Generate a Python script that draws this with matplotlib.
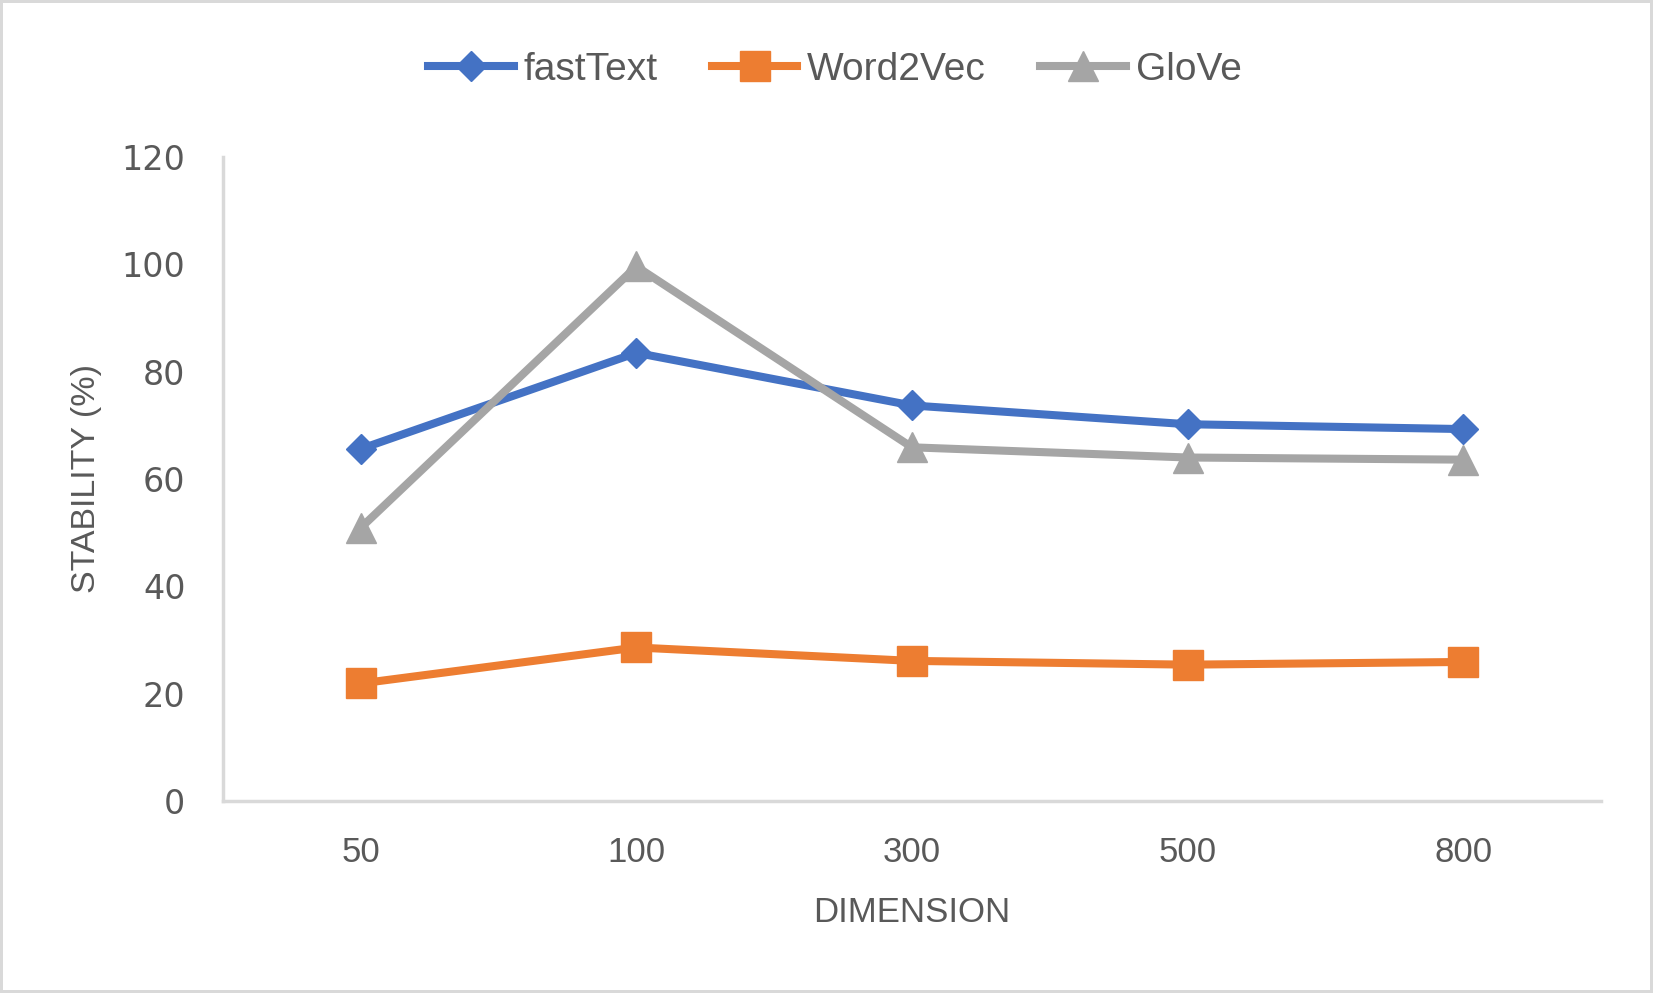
import numpy as np
import matplotlib
matplotlib.use('Agg')
import matplotlib.pyplot as plt

###############################################################################
dimensions = ['50', '100', '300', '500', '800']
fasttext = [65.6, 83.5, 73.7, 70.2, 69.3]
word2vec = [21.9, 28.6, 26.1, 25.4, 25.9]
glove = [50.9, 99.6, 65.9, 64.0, 63.6]
yticks = [0, 20, 40, 60, 80, 100, 120]
###############################################################################
TXT = '#595959'
NARROW = ['Liberation Sans Narrow', 'Liberation Sans', 'DejaVu Sans']

fig = plt.figure(figsize=(16.53, 9.93), dpi=100, facecolor='white',
                 edgecolor='#D9D9D9', linewidth=3)
ax = fig.add_axes([0.1349, 0.1934, 0.8336, 0.6485])

x = np.arange(len(dimensions))
ax.plot(x, fasttext, color='#4472C4', lw=5.8, marker='D', ms=15.5, label='fastText')
ax.plot(x, word2vec, color='#ED7D31', lw=5.8, marker='s', ms=21, label='Word2Vec')
ax.plot(x, glove, color='#A5A5A5', lw=5.8, marker='^', ms=22, label='GloVe')

ax.set_xlim(-0.5, len(dimensions) - 0.5)
ax.set_ylim(0, 120)
ax.set_xticks(x)
ax.set_xticklabels(dimensions, family=NARROW, fontsize=25, color=TXT)
ax.set_yticks(yticks)
ax.set_yticklabels([str(v) for v in yticks], family='DejaVu Sans', fontsize=24, color=TXT)
ax.tick_params(axis='both', length=0)
ax.tick_params(axis='x', pad=25)
ax.tick_params(axis='y', pad=27)

for side in ['top', 'right']:
    ax.spines[side].set_visible(False)
for side in ['left', 'bottom']:
    ax.spines[side].set_color('#D9D9D9')
    ax.spines[side].set_linewidth(2.5)

ax.set_xlabel('DIMENSION', family=NARROW, fontsize=25, color=TXT, labelpad=20)
ax.set_ylabel('STABILITY (%)', family=NARROW, fontsize=24.5, color=TXT, labelpad=14)

leg = fig.legend(loc='center', bbox_to_anchor=(0.505, 0.930), ncol=3, frameon=False,
                 prop={'family': NARROW, 'size': 28}, handlelength=2.2,
                 handletextpad=0.25, columnspacing=1.4)
for t in leg.get_texts():
    t.set_color(TXT)

plt.savefig('out.png', dpi=100)
